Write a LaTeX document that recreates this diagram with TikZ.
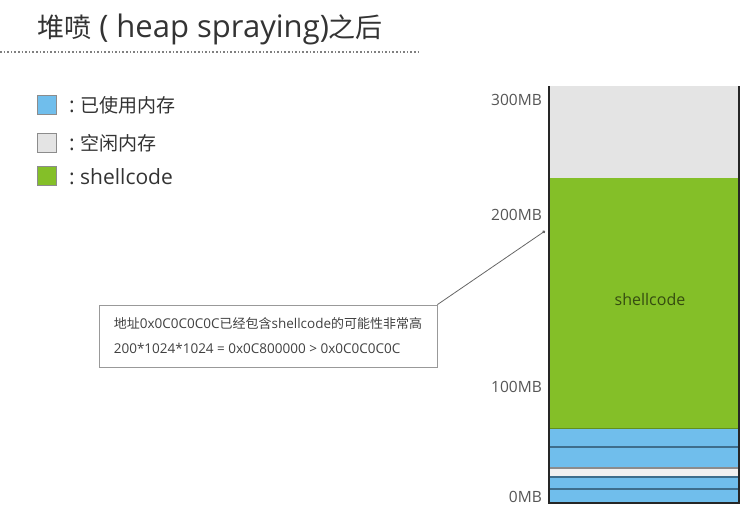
\documentclass[tikz,border=0pt]{standalone}
\usepackage{fontspec}
\setmainfont{Open Sans}
\newfontfamily\cjk{Noto Sans CJK SC}
\usepackage{xcolor}
\usetikzlibrary{arrows.meta}
\usetikzlibrary{math}

\definecolor{usedblue}{RGB}{112,190,236}
\definecolor{freegray}{RGB}{228,228,228}
\definecolor{codegreen}{RGB}{132,191,40}
\definecolor{sepblue}{RGB}{62,110,140}
\definecolor{labelgray}{RGB}{85,85,85}

% CJK text a little smaller than the latin text beside it
\newcommand{\zh}[2]{{\fontsize{#1}{#1}\cjk #2}}

\tikzset{
  legendbox/.style={draw=black!45, line width=0.8, minimum size=19, inner sep=0},
  legendtext/.style={anchor=west, inner sep=0, text=black!80, font=\fontsize{21}{21}\selectfont},
  mblabel/.style={anchor=east, inner sep=0, text=labelgray, font=\fontsize{15.5}{15.5}\selectfont},
  sepline/.style={sepblue, line width=1.2},
}

\begin{document}
\begin{tikzpicture}[x=1pt,y=-1pt]
\tikzmath{
\xl=549;
\xr=739;
\ytop=86;
\ybot=503;
}
\useasboundingbox (0,0) rectangle (753,517);

% title
\node[anchor=west, inner sep=0, text=black!80, font=\fontsize{31}{31}\selectfont] (title) at (37,29)
  {\zh{27}{堆喷}\ ( heap spraying)\zh{27}{之后}};
\draw[dotted, line width=1.6, black!50] (0,52) -- (420,52);

% legend
\node[legendbox, fill=usedblue] (kused) at (47,105) {};
\node[legendbox, fill=freegray] (kfree) at (47,143) {};
\node[legendbox, fill=codegreen] (kcode) at (47,176) {};
\node[legendtext] (tused) at (69,105) {:\ \zh{19}{已使用内存}};
\node[legendtext] (tfree) at (69,143) {:\ \zh{19}{空闲内存}};
\node[legendtext] (tcode) at (69,177) {:\ shellcode};

% memory column
\fill[freegray] (\xl,\ytop) rectangle (\xr,178);
\fill[codegreen] (\xl,178) rectangle (\xr,428);
\fill[usedblue] (\xl,428) rectangle (\xr,468);
\fill[freegray!50] (\xl,468) rectangle (\xr,476);
\fill[usedblue] (\xl,476) rectangle (\xr,\ybot);
\draw[codegreen!75!black, line width=0.8] (\xl,428) -- (\xr,428);
\foreach \y in {447,477,489}
  \draw[sepline] (\xl,\y) -- (\xr,\y);
\draw[black!45, line width=1.2] (\xl,468) -- (\xr,468);
\draw[line width=2.2, black!85] (\xl,\ytop) -- (\xl,\ybot) -- (\xr,\ybot) -- (\xr,\ytop);

\node[text=codegreen!40!black, font=\fontsize{16}{16}\selectfont] (code) at (650,299) {shellcode};

% scale
\foreach \y/\t in {100/300MB,215/200MB,387/100MB,497/0MB}
  \node[mblabel] (l\t) at (542,\y) {\t};

% note
\node[draw=black!40, line width=0.8, minimum width=338, minimum height=62, align=left,
      text=black!75, font=\fontsize{13.5}{25}\selectfont] (note) at (268,336)
  {\zh{13}{地址}0x0C0C0C0C\zh{13}{已经包含}shellcode\zh{13}{的可能性非常高}\\200*1024*1024 = 0x0C800000 > 0x0C0C0C0C};
\coordinate (tip) at (545,231);
\draw[-{Circle[length=3pt]}, black!60, line width=0.8] (note.north east) -- (tip);
\end{tikzpicture}
\end{document}
